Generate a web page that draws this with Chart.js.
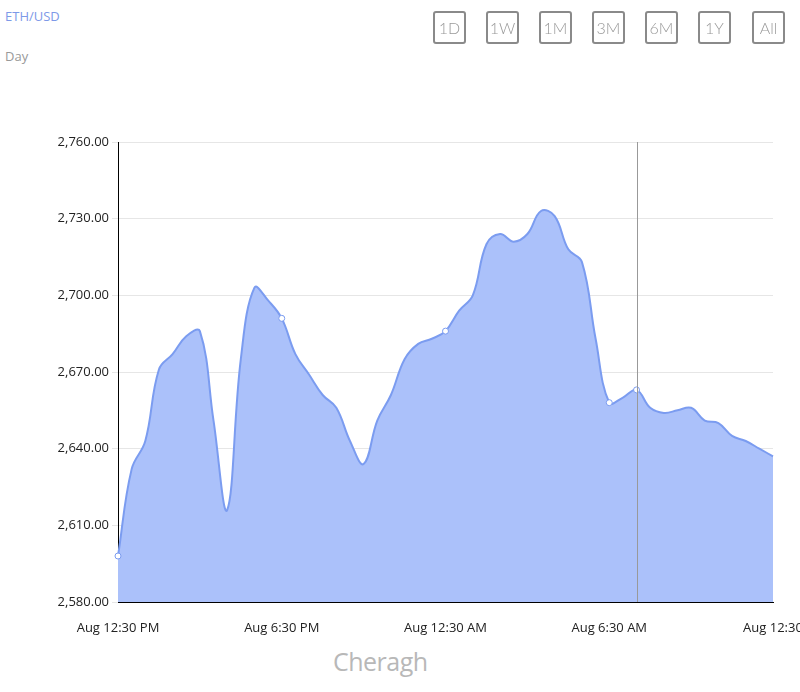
<!DOCTYPE html>
<html><head><meta charset="utf-8">
<script src="https://cdn.jsdelivr.net/npm/chart.js@4"></script>
<style>
body{margin:0;width:800px;height:692px;background:#fff;font-family:"Open Sans",sans-serif;position:relative;overflow:hidden}
#c{position:absolute;left:0;top:0}
.t{position:absolute;left:5px;font-size:13px}
.btn{position:absolute;top:11px;width:33px;height:33px;border:2px solid #8a8a8a;border-radius:3px;box-sizing:border-box;color:#999;font-size:16px;text-align:center;line-height:29px;font-family:Lato,sans-serif;font-weight:300}
#wm{position:absolute;left:333px;top:644px;font-size:25px;color:#b8b8b8;font-family:"Open Sans",sans-serif;letter-spacing:-0.5px}
</style></head><body>
<div class="t" style="top:7px;color:#7d99e8">ETH/USD</div>
<div class="t" style="top:47px;color:#999">Day</div>
<div id="wm">Cheragh</div>
<canvas id="c" width="800" height="692"></canvas>
<script>
const ranges=["1D","1W","1M","3M","6M","1Y","All"];
const btnX=[433,486,539,592,645,698,752];
ranges.forEach((r,i)=>{const d=document.createElement('div');d.className='btn';d.style.left=btnX[i]+'px';d.textContent=r;document.body.appendChild(d);});
const tickLabels=["Aug 12:30 PM","Aug 6:30 PM","Aug 12:30 AM","Aug 6:30 AM","Aug 12:30"];
const prices=[2598,2632,2643,2671,2677,2684,2686,2651,2616,2675,2703,2698,2691,2677,2669,2661,2656,2643,2634,2651,2661,2675,2681,2683,2686,2694,2700,2720,2724,2721,2724,2733,2731,2718,2713,2683,2658,2660,2663,2656,2654,2655,2656,2651,2650,2645,2643,2640,2637];
const markerIdx=[0,12,24,36,38];
const cursorIdx=38;
const labels=prices.map((_,i)=>i%12===0?tickLabels[i/12]:"");
const cursor={id:'cursor',afterDatasetsDraw(ch){const x=ch.scales.x.getPixelForValue(cursorIdx);const a=ch.chartArea;const c=ch.ctx;c.save();c.strokeStyle='#999';c.lineWidth=1;c.beginPath();c.moveTo(Math.round(x)+0.5,a.top);c.lineTo(Math.round(x)+0.5,a.bottom);c.stroke();c.restore();}};
new Chart(document.getElementById('c'),{type:'line',
data:{labels,datasets:[{data:prices,borderColor:'#7b9cf0',backgroundColor:'#abc1fa',fill:'start',borderWidth:2,tension:0.4,
pointRadius:prices.map((_,i)=>markerIdx.includes(i)?3:0),pointBackgroundColor:'#fff',pointBorderColor:'#7b9cf0',pointBorderWidth:1}]},
options:{responsive:false,animation:false,layout:{padding:{top:142,right:27,left:0,bottom:0}},
plugins:{legend:{display:false},tooltip:{enabled:false}},
scales:{
x:{grid:{display:false,drawTicks:true,tickLength:6,tickColor:'#000'},border:{color:'#000'},
ticks:{autoSkip:false,maxRotation:0,padding:12,color:'#222',font:{size:13,family:'Open Sans'},callback:(v,i)=>labels[i]},
afterFit(s){s.height=90;s.paddingLeft=0;s.paddingRight=0;}},
y:{min:2580,max:2760,grid:{color:'#e6e6e6',tickLength:6},border:{color:'#000'},
ticks:{stepSize:30,color:'#222',font:{size:13,family:'Open Sans'},callback:v=>v.toLocaleString('en-US',{minimumFractionDigits:2,maximumFractionDigits:2})},
afterFit(s){s.width=118;}}}},
plugins:[cursor]});
</script></body></html>
